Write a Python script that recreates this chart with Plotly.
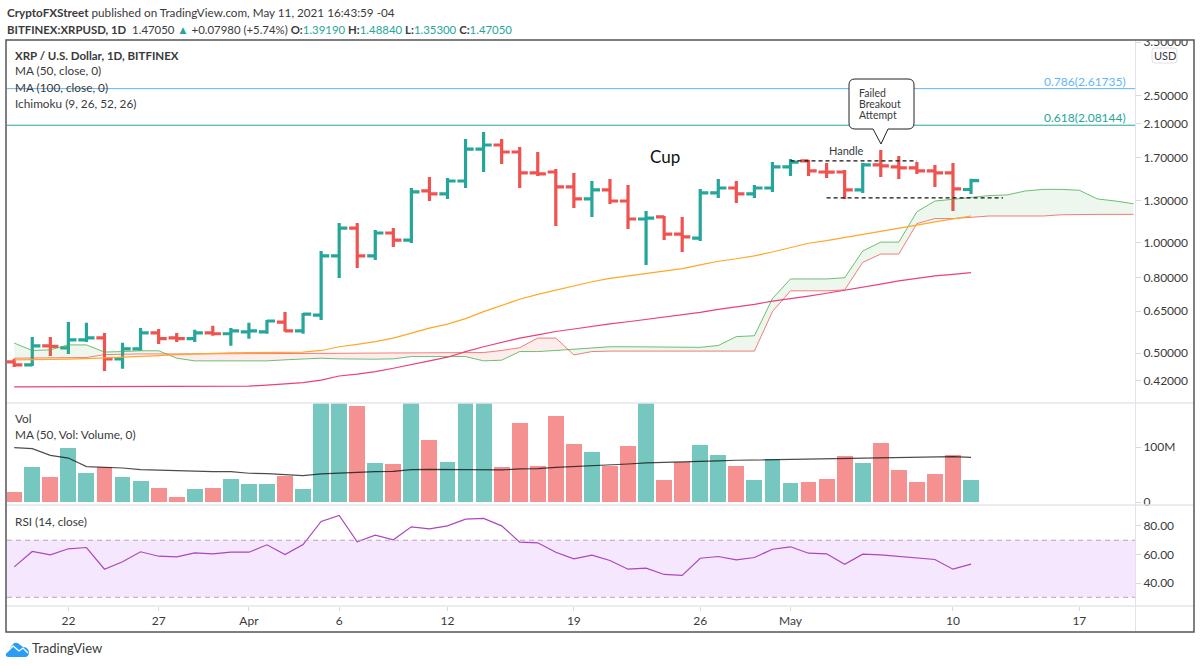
import math
import pandas as pd
import plotly.graph_objects as go

dates = pd.date_range("2021-03-19", periods=54)
cloud_dates = pd.date_range("2021-03-19", periods=63)

opens = [.473,.464,.523,.516,.543,.550,.482,.513,.567,.550,.547,.567,.564,
         .571,.571,.607,.574,.634,.918,1.093,.918,1.060,1.014,1.379,1.354,1.468,1.793,1.839,1.760,1.544,
         1.553,1.414,1.312,1.388,1.295,1.157,1.172,1.053,1.027,1.362,1.405,1.354,1.405,
         1.603,1.664,1.553,1.553,1.388,1.623,1.603,1.593,1.563,1.544,1.3919]
highs = [.482,.553,.553,.607,.604,.567,.533,.585,.581,.567,.578,.593,.585,
         .604,.615,.646,.642,.947,1.128,1.128,1.080,1.093,1.405,1.505,1.496,1.909,1.995,1.909,1.816,1.760,
         1.583,1.544,1.468,1.486,1.432,1.216,1.179,1.172,1.397,1.486,1.468,1.432,1.653,
         1.684,1.674,1.643,1.573,1.643,1.782,1.716,1.653,1.623,1.643,1.4884]
lows = [.458,.461,.491,.497,.536,.447,.453,.507,.529,.536,.536,.557,.523,
        .547,.564,.571,.564,.615,.800,.852,.895,.971,.996,1.295,1.312,1.405,1.553,1.633,1.405,1.515,
        1.107,1.240,1.172,1.271,1.087,.868,1.014,.941,1.008,1.320,1.279,1.320,1.371,
        1.515,1.515,1.496,1.312,1.362,1.505,1.486,1.534,1.414,1.216,1.353]
closes = [.464,.523,.521,.543,.550,.482,.513,.567,.547,.547,.567,.564,.574,
          .574,.611,.574,.638,.918,1.093,.918,1.060,1.014,1.371,1.354,1.468,1.793,1.839,1.760,1.544,1.534,
          1.414,1.312,1.388,1.295,1.157,1.164,1.053,1.034,1.362,1.405,1.354,1.405,1.603,
          1.653,1.563,1.551,1.388,1.623,1.613,1.593,1.563,1.544,1.397,1.4705]

ma50 = [.479,.479,.480,.481,.4825,.4845,.486,.488,.492,.495,.497,.4993,.5003,
        .501,.5015,.502,.503,.508,.520,.528,.537,.549,.566,.584,.599,.620,.648,.675,.700,.722,
        .742,.760,.781,.798,.810,.824,.835,.848,.868,.888,.902,.919,.941,
        .968,.994,1.010,1.029,1.053,1.073,1.092,1.114,1.137,1.157,1.179]
ma100 = [.4046,.4046,.4046,.4046,.4046,.4046,.4046,.4046,.4046,.4046,.4046,.4046,.4046,
         .4064,.409,.412,.4155,.422,.433,.438,.445,.4545,.464,.476,.487,.5045,.520,.535,.549,.560,
         .572,.581,.591,.600,.608,.617,.626,.633,.645,.657,.667,.678,.692,
         .702,.714,.727,.742,.757,.770,.785,.798,.810,.818,.827]
lead_a = [.532,.508,.510,.526,.526,.503,.5045,.507,.507,.484,.476,.476,.476,
          .476,.476,.479,.4825,.484,.482,.481,.481,.482,.489,.489,.489,.489,.476,.478,.5045,.5045,
          .508,.512,.517,.520,.520,.520,.520,.518,.518,.524,.554,.557,.703,
          .795,.795,.795,.801,.947,1.001,1.001,1.211,1.295,1.309,1.322,1.340,1.345,1.379,1.393,1.393,1.385,1.312,1.295,1.273]
lead_b = [.484,.484,.484,.484,.486,.495,.497,.497,.497,.497,.497,.497,.497,
          .497,.497,.497,.497,.4975,.499,.4995,.4995,.4995,.4995,.4995,.4995,.4995,.5015,.508,.517,.549,
          .549,.494,.5045,.506,.506,.506,.506,.506,.506,.506,.506,.506,.648,
          .738,.738,.738,.742,.882,.929,.929,1.124,1.160,1.160,1.172,1.179,1.179,1.179,1.179,1.188,1.191,1.191,1.191,1.191]

volume = [18,63,46,98,53,63,45,38,25,10,24,25,42,
          33,33,48,24,200,200,174,71,69,200,113,73,200,200,63,143,66,
          156,105,91,66,101,200,40,72,103,86,65,40,78,
          34,36,43,84,71,107,58,36,51,86,41]
vol_ma = [98.9,97,85,80,64.5,63.3,62,59,58,57.3,56,55.5,55.5,
          52.5,52,50.7,48.2,51.3,53,55,55.5,56,59,59.7,59.7,59,58.5,58.5,60.3,61,
          63.3,64.5,65.7,67.5,69.3,71.2,71.8,72.4,74.2,74.8,76,76.6,77.2,
          77.8,78.4,79,79.6,80.2,81.4,82,82.6,82.6,82.6,81.4]
rsi = [51.3,62.1,59.8,64,64.9,49.7,54.9,61.9,58.8,58.4,61.2,60.5,61.6,
       61.6,66.8,60,67,83.2,87.4,68.9,73.6,70.3,79.4,78,80.1,84.8,85.3,80.1,68.7,68.2,
       61.6,57,59.5,55.8,49.7,50.4,46,45.3,57.4,58.6,56.3,57.9,63.7,
       65.4,60.9,60.5,53.2,60.2,59.8,58.8,57.9,56.5,49.7,53.2]

fib_618 = 2.08144
fib_786 = 2.61735
handle_top = 1.664
handle_low = 1.32

price_ticks = [.42,.5,.65,.8,1,1.3,1.7,2.1,2.5,3.5]
vol_ticks = [0,100]
vol_labels = ["0","100M"]
rsi_ticks = [40,60,80]
date_ticks = ["2021-03-22","2021-03-27","2021-04-01","2021-04-06","2021-04-12","2021-04-19","2021-04-26","2021-05-01","2021-05-10","2021-05-17"]
date_labels = ["22","27","Apr","6","12","19","26","May","10","17"]

UP = "#26a69a"
DOWN = "#ef5350"
FONT = "Lato"
TXT = "#3a3a3a"
X0 = "2021-03-18 14:24"
X1 = "2021-05-20 02:00"

# pixel -> paper, plot area is x 7..1135, y 40..606
def px(x):
    return (x-7)/1128
def py(y):
    return (606-y)/566


fig = go.Figure()

# cloud, one quad per day, split where the spans cross
gx, gy, rx, ry = [], [], [], []
for n in range(len(cloud_dates)-1):
    t0, t1 = cloud_dates[n], cloud_dates[n+1]
    a0, a1, b0, b1 = lead_a[n], lead_a[n+1], lead_b[n], lead_b[n+1]
    d0, d1 = a0-b0, a1-b1
    if d0*d1 < 0:
        f = d0/(d0-d1)
        tm = t0+(t1-t0)*f
        vm = a0+(a1-a0)*f
        xs0, ys0 = [t0,tm,t0,t0], [a0,vm,b0,a0]
        xs1, ys1 = [tm,t1,t1,tm], [vm,a1,b1,vm]
        (gx if d0>0 else rx).extend(xs0+[None])
        (gy if d0>0 else ry).extend(ys0+[None])
        (gx if d1>0 else rx).extend(xs1+[None])
        (gy if d1>0 else ry).extend(ys1+[None])
    else:
        up = d0+d1 > 0
        (gx if up else rx).extend([t0,t1,t1,t0,t0,None])
        (gy if up else ry).extend([a0,a1,b1,b0,a0,None])
fig.add_trace(go.Scatter(x=gx,y=gy,mode="none",fill="toself",fillcolor="rgba(76,175,80,0.1)",yaxis="y"))
fig.add_trace(go.Scatter(x=rx,y=ry,mode="none",fill="toself",fillcolor="rgba(239,83,80,0.1)",yaxis="y"))

fig.add_trace(go.Scatter(x=cloud_dates,y=lead_a,mode="lines",line=dict(color="rgba(76,175,80,0.8)",width=1),yaxis="y"))
fig.add_trace(go.Scatter(x=cloud_dates,y=lead_b,mode="lines",line=dict(color="rgba(239,83,80,0.75)",width=1),yaxis="y"))
fig.add_trace(go.Scatter(x=dates,y=ma100,mode="lines",line=dict(color="#ec407a",width=1.2),yaxis="y"))
fig.add_trace(go.Scatter(x=dates,y=ma50,mode="lines",line=dict(color="#ffa726",width=1.2),yaxis="y"))

fig.add_trace(go.Scatter(x=[X0,X1],y=[fib_786,fib_786],mode="lines",line=dict(color="#64b5f6",width=1),yaxis="y"))
fig.add_trace(go.Scatter(x=[X0,X1],y=[fib_618,fib_618],mode="lines",line=dict(color=UP,width=1),yaxis="y"))
fig.add_trace(go.Scatter(x=["2021-05-01","2021-05-08"],y=[handle_top,handle_top],mode="lines",
                         line=dict(color="#111",width=1.2,dash="4px,3px"),yaxis="y"))
fig.add_trace(go.Scatter(x=["2021-05-03","2021-05-12 18:30"],y=[handle_low,handle_low],mode="lines",
                         line=dict(color="#111",width=1.2,dash="4px,3px"),yaxis="y"))

fig.add_trace(go.Ohlc(x=dates,open=opens,high=highs,low=lows,close=closes,yaxis="y",tickwidth=0.45,
                      increasing=dict(line=dict(color=UP,width=3.2)),
                      decreasing=dict(line=dict(color=DOWN,width=3.2))))

vol_colors = ["rgba(38,166,154,0.63)" if c >= o else "rgba(239,83,80,0.63)" for o, c in zip(opens, closes)]
fig.add_trace(go.Bar(x=dates,y=volume,marker=dict(color=vol_colors,line=dict(width=0)),width=86400000*0.88,yaxis="y2"))
fig.add_trace(go.Scatter(x=dates,y=vol_ma,mode="lines",line=dict(color="rgba(0,0,0,0.7)",width=1.2),yaxis="y2"))
fig.add_trace(go.Scatter(x=dates,y=rsi,mode="lines",line=dict(color="#ab47bc",width=1.2),yaxis="y3"))

shapes = []
# rsi band
shapes.append(dict(type="rect",xref="paper",x0=0,x1=1,yref="y3",y0=30,y1=70,fillcolor="#f5e7fd",line=dict(width=0),layer="below"))
for lv in [30,70]:
    shapes.append(dict(type="line",xref="paper",x0=0,x1=1,yref="y3",y0=lv,y1=lv,line=dict(color="#b9a3c0",width=1,dash="5px,4px")))
# pane separators
for y in [403,505,606]:
    shapes.append(dict(type="line",xref="paper",yref="paper",x0=px(7),x1=px(1193),y0=py(y),y1=py(y),line=dict(color="#e4e6eb",width=1.5)))
shapes.append(dict(type="line",xref="paper",yref="paper",x0=px(1135.5),x1=px(1135.5),y0=py(40),y1=py(632),line=dict(color="#e0e3eb",width=1)))
# hides the top of the 3.50000 label
shapes.append(dict(type="rect",xref="paper",yref="paper",x0=px(1137),x1=px(1193),y0=py(30),y1=py(40),fillcolor="white",line=dict(width=0)))
# frame
shapes.append(dict(type="rect",xref="paper",yref="paper",x0=px(6),x1=px(1194),y0=py(632),y1=py(40),line=dict(color="#555",width=1.5)))
# usd box
usd = [("M",1155,48),("L",1174,48),("Q",1177,48),("",1177,51),("L",1177,60),("Q",1177,63),("",1174,63),
       ("L",1155,63),("Q",1152,63),("",1152,60),("L",1152,51),("Q",1152,48),("",1155,48)]
shapes.append(dict(type="path",xref="paper",yref="paper",line=dict(color="#dcdfe5",width=1),fillcolor="white",
    path=" ".join(f"{c} {px(a)} {py(b)}" for c,a,b in usd)+" Z"))
# callout
pts = [("M",855,79),("L",908,79),("Q",914,79),("",914,85),("L",914,123),("Q",914,129),("",908,129),
       ("L",888,129),("L",881,144),("L",873,129),("L",855,129),("Q",849,129),("",849,123),("L",849,85),("Q",849,79),("",855,79)]
shapes.append(dict(type="path",xref="paper",yref="paper",line=dict(color="#222",width=1),fillcolor="white",
    path=" ".join(f"{c} {px(a)} {py(b)}" for c,a,b in pts)+" Z"))
# logo
logo = [("M",6,654),("L",12,645),("Q",15,641),("",19,644),("L",23,647),("Q",28,647),("",29,652),("Q",29,657),("",25,657),("L",9,657),("Q",5,657),("",6,654)]
shapes.append(dict(type="path",xref="paper",yref="paper",line=dict(width=0),fillcolor="#2a9df4",
    path=" ".join(f"{c} {px(a)} {py(b)}" for c,a,b in logo)+" Z"))
zig = [("M",7,652),("L",13,646),("L",19,651),("L",23,648),("L",28,653)]
shapes.append(dict(type="path",xref="paper",yref="paper",line=dict(color="white",width=1.3),
    path=" ".join(f"{c} {px(a)} {py(b)}" for c,a,b in zig)))


def note(x, y, text, size=11.8, color=TXT, anchor="left"):
    return dict(x=px(x),y=py(y),xref="paper",yref="paper",text=text,showarrow=False,xanchor=anchor,yanchor="middle",
                align=anchor,font=dict(family=FONT,size=size,color=color),borderpad=0)


def val(s):
    return f'<span style="color:{UP}">{s}</span>'


annotations = [
    note(6,12,"<b>CryptoFXStreet</b> published on TradingView.com, May 11, 2021 16:43:59 -04",size=11.7),
    note(6,29,"<b>BITFINEX:XRPUSD, 1D</b>  1.47050 "+val("▲")+" +0.07980 (+5.74%) <b>O:</b>"+val("1.39190")+" <b>H:</b>"+val("1.48840")+" <b>L:</b>"+val("1.35300")+" <b>C:</b>"+val("1.47050"),size=11.4),
    note(14,56,"<b>XRP / U.S. Dollar, 1D, BITFINEX</b>",size=11.5),
    note(14,71,"MA (50, close, 0)"),
    note(14,87,"MA (100, close, 0)"),
    note(14,103,"Ichimoku (9, 26, 52, 26)"),
    note(14,418,"Vol"),
    note(14,434,"MA (50, Vol: Volume, 0)"),
    note(14,521,"RSI (14, close)"),
    note(649,156,"Cup",size=17,color="#111"),
    note(828,150,"Handle",size=11),
    note(858,93,"Failed",size=10.5),
    note(858,104,"Breakout",size=10.5),
    note(858,115,"Attempt",size=10.5),
    note(1127,82,"0.786(2.61735)",size=12,color="#64b5f6",anchor="right"),
    note(1127,118,"0.618(2.08144)",size=12,color=UP,anchor="right"),
    note(1164.5,55.5,"USD",size=11,anchor="center"),
    note(31,648,"TradingView",size=13),
]

axfont = dict(family=FONT,size=12,color=TXT)
yax = dict(side="right",anchor="x",showgrid=False,zeroline=False,showline=False,ticks="outside",ticklen=5,
           tickcolor="#d6d9df",tickfont=axfont)
fig.update_layout(
    width=1200,height=666,margin=dict(l=7,r=65,t=40,b=60),
    paper_bgcolor="white",plot_bgcolor="white",showlegend=False,hovermode=False,bargap=0,
    xaxis=dict(type="date",range=[X0,X1],anchor="y3",showgrid=False,zeroline=False,showline=False,
               rangeslider=dict(visible=False),tickmode="array",tickvals=date_ticks,ticktext=date_labels,
               ticks="outside",ticklen=4,tickcolor="#d6d9df",tickfont=axfont),
    yaxis=dict(yax,type="log",domain=[py(403),1],range=[math.log10(0.3656),math.log10(3.549)],
               tickmode="array",tickvals=price_ticks,ticktext=[f"{t:.5f}" for t in price_ticks]),
    yaxis2=dict(yax,domain=[py(505),py(403)],range=[-4.9,179.6],tickmode="array",tickvals=vol_ticks,ticktext=vol_labels),
    yaxis3=dict(yax,domain=[0,py(505)],range=[23.9,94.7],tickmode="array",tickvals=rsi_ticks,ticktext=[f"{t:.2f}" for t in rsi_ticks]),
    shapes=shapes,annotations=annotations,
)

# page margin would push the chart 8px down and right
fig.write_html("out.html", config=dict(displayModeBar=False),
               post_script="document.body.style.margin='0';document.body.style.overflow='hidden';")
